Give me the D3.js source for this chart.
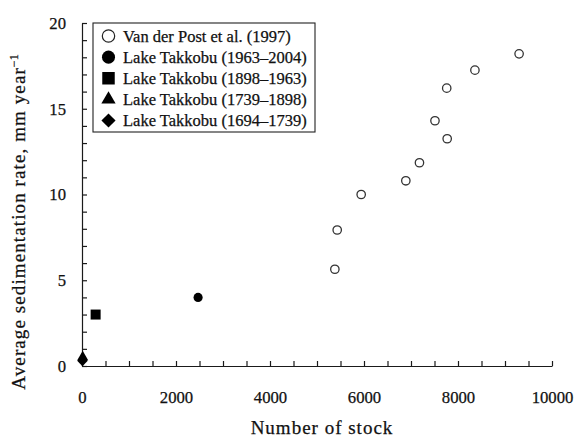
<!DOCTYPE html>
<html>
<head>
<meta charset="utf-8">
<script src="https://cdn.jsdelivr.net/npm/d3@7"></script>
<style>
  body { margin: 0; background: #fff; }
  svg { font-family: "Liberation Serif", "Times New Roman", serif; }
  text { stroke: #111; stroke-width: 0.25px; }
</style>
</head>
<body>
<div id="wrapper"></div>
<script>
// data
const vanDerPostStock = [5380, 5430, 5940, 6890, 7180, 7510, 7760, 7770, 8360, 9300]
const vanDerPostRate = [5.64, 7.93, 10.0, 10.8, 11.85, 14.3, 16.2, 13.25, 17.25, 18.2]

const takkobuLabels = [
  "Lake Takkobu (1963–2004)",
  "Lake Takkobu (1898–1963)",
  "Lake Takkobu (1739–1898)",
  "Lake Takkobu (1694–1739)",
]
const takkobuStock = [2470, 290, 15, 10]
const takkobuRate = [4.0, 3.0, 0.52, 0.3]

const legendLabels = ["Van der Post et al. (1997)"].concat(takkobuLabels)

const xTicksMajor = [0, 2000, 4000, 6000, 8000, 10000]
const yTicksMajor = [0, 5, 10, 15, 20]

// dimensions
const dimensions = {
  width: 580,
  height: 441,
  margin: { top: 23, right: 28, bottom: 75, left: 82 },
}
dimensions.boundWidth = dimensions.width - dimensions.margin.left - dimensions.margin.right
dimensions.boundHeight = dimensions.height - dimensions.margin.top - dimensions.margin.bottom

const svg = d3.select("#wrapper")
  .append("svg")
    .attr("width", dimensions.width)
    .attr("height", dimensions.height)

const bounds = svg.append("g")
  .attr("transform", `translate(${dimensions.margin.left}, ${dimensions.margin.top})`)

// scales
const xScale = d3.scaleLinear()
  .domain([0, 10000])
  .range([0, dimensions.boundWidth])

const yScale = d3.scaleLinear()
  .domain([0, 20])
  .range([dimensions.boundHeight, 0])

const axisColor = "#1a1a1a"

// x axis, minor ticks every 500, labels every 2000
bounds.append("g")
  .attr("id", "x-axis")
  .attr("transform", `translate(0, ${dimensions.boundHeight})`)
  .call(d3.axisBottom(xScale)
    .tickValues(d3.range(0, 10001, 500))
    .tickSizeInner(-5)
    .tickSizeOuter(0)
    .tickPadding(25)
    .tickFormat(d => xTicksMajor.includes(d) ? d : ""))

// y axis, minor ticks every 1, labels every 5
bounds.append("g")
  .attr("id", "y-axis")
  .call(d3.axisLeft(yScale)
    .tickValues(d3.range(0, 21, 1))
    .tickSizeInner(-5)
    .tickSizeOuter(0)
    .tickPadding(16)
    .tickFormat(d => yTicksMajor.includes(d) ? d : ""))

svg.selectAll("#x-axis path, #y-axis path, #x-axis .tick line, #y-axis .tick line")
  .attr("stroke", axisColor)
  .attr("stroke-width", 1.2)
svg.selectAll("#x-axis .tick text, #y-axis .tick text")
  .attr("font-size", 16.7)
  .attr("font-family", "Liberation Serif, Times New Roman, serif")
  .attr("fill", "#111")

// axis titles
svg.append("text")
  .attr("x", dimensions.margin.left + xScale(5000) + 5)
  .attr("y", 434)
  .attr("text-anchor", "middle")
  .attr("font-size", 19)
  .attr("letter-spacing", 1)
  .attr("fill", "#111")
  .text("Number of stock")

const yTitle = svg.append("text")
  .attr("transform", "translate(25, 222) rotate(-90)")
  .attr("text-anchor", "middle")
  .attr("font-size", 19)
  .attr("letter-spacing", 1.1)
  .attr("fill", "#111")
yTitle.append("tspan").text("Average sedimentation rate, mm year")
yTitle.append("tspan")
  .attr("dy", -7)
  .attr("font-size", 12)
  .attr("letter-spacing", 0)
  .text("−1")

// markers: circle, square, triangle, diamond (square turned 45°)
const shapes = [d3.symbolCircle, d3.symbolSquare, d3.symbolTriangle, d3.symbolSquare]
const rotation = [0, 0, 0, 45]
const plotSizes = [66, 100, 52, 56]

bounds.append("g")
  .selectAll("circle")
  .data(d3.range(vanDerPostStock.length))
  .join("circle")
    .attr("cx", i => xScale(vanDerPostStock[i]))
    .attr("cy", i => yScale(vanDerPostRate[i]))
    .attr("r", 4.2)
    .attr("fill", "#fff")
    .attr("stroke", "#333")
    .attr("stroke-width", 1.3)

bounds.append("g")
  .selectAll("path")
  .data(d3.range(takkobuStock.length))
  .join("path")
    .attr("transform", i => `translate(${xScale(takkobuStock[i])}, ${yScale(takkobuRate[i])}) rotate(${rotation[i]})`)
    .attr("d", i => d3.symbol(shapes[i], plotSizes[i])())
    .attr("fill", "#000")

// legend
const legend = svg.append("g")
  .attr("transform", "translate(93, 23)")

legend.append("rect")
  .attr("width", 222)
  .attr("height", 109)
  .attr("fill", "#fff")
  .attr("stroke", "#222")
  .attr("stroke-width", 1.1)

const rowY = d3.scaleLinear().domain([0, 4]).range([13, 97.5])
const legendSizes = [133, 156, 88, 100]

const rows = legend.selectAll(".row")
  .data(legendLabels)
  .join("g")
    .attr("class", "row")
    .attr("transform", (d, i) => `translate(0, ${rowY(i)})`)

rows.append("path")
  .attr("transform", (d, i) => `translate(15.5, 0) rotate(${i === 0 ? 0 : rotation[i - 1]})`)
  .attr("d", (d, i) => i === 0
    ? d3.symbol(d3.symbolCircle, 120)()
    : d3.symbol(shapes[i - 1], legendSizes[i - 1])())
  .attr("fill", (d, i) => i === 0 ? "#fff" : "#000")
  .attr("stroke", (d, i) => i === 0 ? "#222" : "none")
  .attr("stroke-width", 1.2)

rows.append("text")
  .attr("x", 30)
  .attr("dy", "0.34em")
  .attr("font-size", 16.5)
  .attr("fill", "#111")
  .text(d => d)
</script>
</body>
</html>
